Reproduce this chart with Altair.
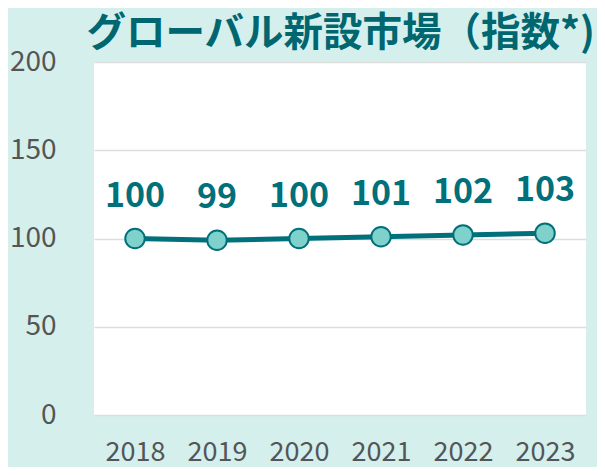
import altair as alt
import pandas as pd

years = ["2018", "2019", "2020", "2021", "2022", "2023"]
values = [100, 99, 100, 101, 102, 103]

df = pd.DataFrame({"year": years, "value": values})

teal = "#00707a"
font = "Noto Sans CJK JP"

x = alt.X("year:O", title=None, scale=alt.Scale(paddingInner=1, paddingOuter=0.5),
          axis=alt.Axis(labelAngle=0, labelFontSize=27, labelColor="#555555", labelFont=font,
                        labelPadding=24, ticks=False, domain=False, grid=False))
y = alt.Y("value:Q", title=None, scale=alt.Scale(domain=[0, 200]),
          axis=alt.Axis(values=[0, 50, 100, 150, 200], labelFontSize=28, labelColor="#555555",
                        labelFont=font, labelPadding=38, ticks=False, domain=False,
                        gridColor="#dddddd", gridWidth=1.5))

base = alt.Chart(df).encode(x=x, y=y)

line = base.mark_line(color=teal, strokeWidth=5)
pts = base.mark_point(filled=True, size=380, fill="#7fd1cb", stroke=teal, strokeWidth=2, opacity=1)
labels = base.mark_text(dy=-42, fontSize=34, fontWeight="bold", color=teal, font=font).encode(
    text="value:Q")

chart = (line + pts + labels).properties(
    width=492, height=353,
    background="#d5efed",
    padding={"left": 86, "top": 54, "right": 11, "bottom": 52},
    autosize=alt.AutoSizeParams(type="none"),
    title=alt.TitleParams("グローバル新設市場（指数*)", fontSize=39.5, font=font, fontWeight="bold",
                          color="#006670", anchor="end", offset=0, dy=6, dx=9),
).configure_view(fill="white", stroke=None)

chart.save("out.html", embed_options={"renderer": "svg", "actions": False})
